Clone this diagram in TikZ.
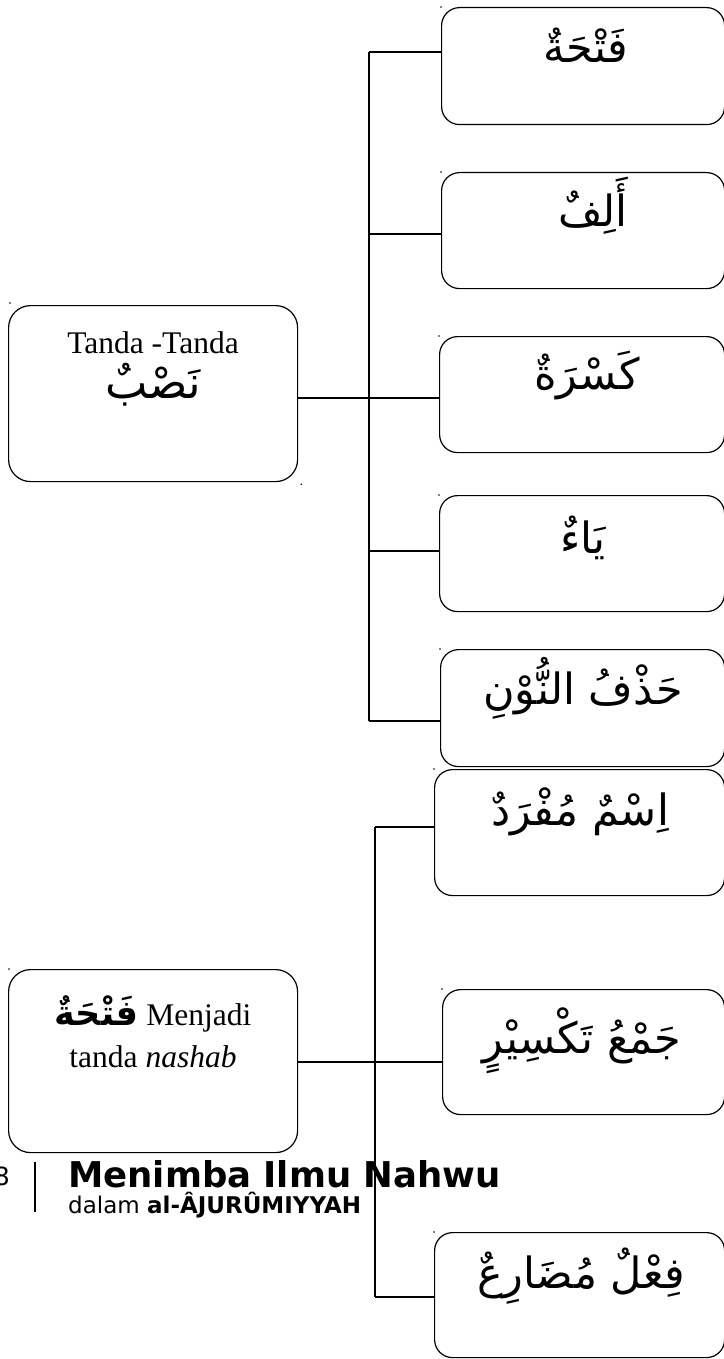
\documentclass[tikz,border=0pt]{standalone}
\usepackage{fontspec}
\usetikzlibrary{calc}
\setmainfont{Liberation Serif}
\newfontfamily\arabicfont[Script=Arabic]{DejaVu Sans}
\newfontfamily\arabicbold[Script=Arabic]{DejaVu Sans Bold}
\newfontfamily\footfont{DejaVu Sans}
\TeXXeTstate=1
\begin{document}
\begin{tikzpicture}[x=1pt,y=-1pt,
  box/.style={draw, line width=1.2pt, rounded corners=18pt, anchor=north west, inner sep=0pt},
  rootbox/.style={box, rounded corners=22pt, minimum width=289pt},
  link/.style={line width=1.2pt},
  ar/.style={font=\arabicfont\fontsize{43}{50}\selectfont, anchor=base, inner sep=0pt},
  latin/.style={font=\fontsize{31.5}{36}\selectfont, anchor=base, inner sep=0pt},
  anchordot/.style={radius=0.9pt}
]
\useasboundingbox (0,0) rectangle (723,1359);

% ---- first tree: signs of nashab ----
\node[rootbox, minimum height=176pt] (r1) at (8,305) {};
\node[latin] (r1a) at (153,353) {Tanda -Tanda};
\node[ar, font=\arabicfont\fontsize{45}{52}\selectfont] (r1b) at (153,398) {\beginR نَصْبٌ\endR};

\node[box, minimum width=283pt, minimum height=117pt] (b1) at (441,7) {};
\node[box, minimum width=283pt, minimum height=116pt] (b2) at (441,172) {};
\node[box, minimum width=285pt, minimum height=116pt] (b3) at (439,336) {};
\node[box, minimum width=285pt, minimum height=116pt] (b4) at (439,495) {};
\node[box, minimum width=284pt, minimum height=117pt] (b5) at (440,649) {};

\node[ar] (l1) at (586,63) {\beginR فَتْحَةٌ\endR};
\node[ar] (l2) at (593,226) {\beginR أَلِفٌ\endR};
\node[ar] (l3) at (587,389) {\beginR كَسْرَةٌ\endR};
\node[ar] (l4) at (583,553) {\beginR يَاءٌ\endR};
\node[ar] (l5) at (583,704) {\beginR حَذْفُ النُّوْنِ\endR};

\coordinate (ta) at (369,52);
\coordinate (tb) at (369,234);
\coordinate (tc) at (369,398);
\coordinate (td) at (369,551);
\coordinate (te) at (369,721);
\draw[link] (ta) -- (te);
\draw[link] (ta) -- (ta -| b1.west);
\draw[link] (tb) -- (tb -| b2.west);
\draw[link] (tc -| r1.east) -- (tc -| b3.west);
\draw[link] (td) -- (td -| b4.west);
\draw[link] (te) -- (te -| b5.west);

% ---- second tree: fathah as a sign of nashab ----
\node[rootbox, minimum height=183pt] (r2) at (8,969) {};
\node[latin] (r2a) at (153,1025) {{\arabicbold\fontsize{35}{40}\selectfont\beginR فَتْحَةٌ\endR}\ Menjadi};
\node[latin] (r2b) at (153,1067) {tanda \textit{nashab}};

\node[box, minimum width=290pt, minimum height=126pt] (b6) at (434,769) {};
\node[box, minimum width=282pt, minimum height=125pt] (b7) at (442,989) {};
\node[box, minimum width=290pt, minimum height=125pt] (b8) at (434,1232) {};

\node[ar] (l6) at (580,825) {\beginR اِسْمٌ مُفْرَدٌ\endR};
\node[ar] (l7) at (582,1053) {\beginR جَمْعُ تَكْسِيْرٍ\endR};
\node[ar] (l8) at (581,1288) {\beginR فِعْلٌ مُضَارِعٌ\endR};

\coordinate (ua) at (375,827);
\coordinate (ub) at (375,1062);
\coordinate (uc) at (375,1297);
\draw[link] (ua) -- (uc);
\draw[link] (ua) -- (ua -| b6.west);
\draw[link] (ub -| r2.east) -- (ub -| b7.west);
\draw[link] (uc) -- (uc -| b8.west);

% ---- anchor marks ----
\foreach \n in {b1,b2,b3,b4,b5,b6,b7,b8}
  \fill (\n.north west) circle[anchordot];
\fill ($(r1.north west)+(2,-2)$) circle[anchordot];
\fill ($(r1.south east)+(3,2)$) circle[anchordot];
\fill ($(r2.north west)+(1,0)$) circle[anchordot];

% ---- page footer ----
\node[font=\footfont\fontsize{25}{30}\selectfont, anchor=base east, inner sep=0pt] (pg) at (10,1185) {8};
\coordinate (bar1) at (35,1162);
\coordinate (bar2) at (35,1212);
\draw[line width=2pt] (bar1) -- (bar2);
\node[font=\footfont\bfseries\fontsize{35.5}{40}\selectfont, anchor=base west, inner sep=0pt] (title) at (68,1187) {Menimba Ilmu Nahwu};
\node[font=\footfont\fontsize{23}{27}\selectfont, anchor=base west, inner sep=0pt] (sub) at (68,1213) {dalam \textbf{al-ÂJURÛMIYYAH}};
\end{tikzpicture}
\end{document}
